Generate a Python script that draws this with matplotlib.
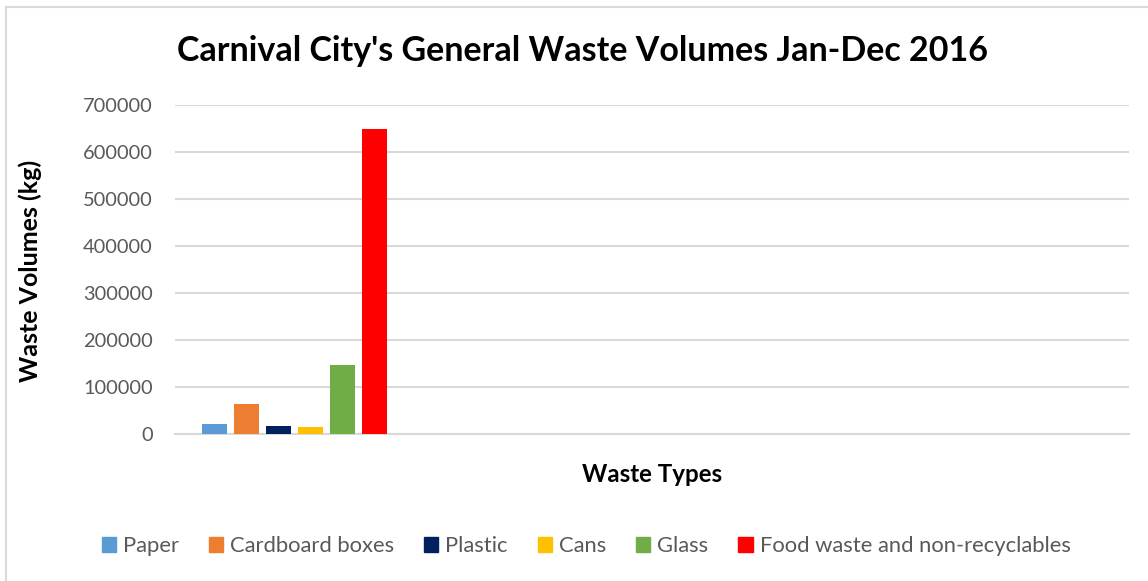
import matplotlib
matplotlib.use("Agg")
import matplotlib.pyplot as plt
from matplotlib.lines import Line2D
from matplotlib.patches import Patch

series = ["Paper", "Cardboard boxes", "Plastic", "Cans", "Glass", "Food waste and non-recyclables"]
values = [20500, 64000, 17000, 15000, 147000, 649000]
colors = ["#5B9BD5", "#ED7D31", "#002060", "#FFC000", "#70AD47", "#FF0000"]
yticks = [0, 100000, 200000, 300000, 400000, 500000, 600000, 700000]

W, H = 1148, 581
fig = plt.figure(figsize=(W / 100, H / 100), dpi=100)
plt.rcParams['font.family'] = ['Lato', 'DejaVu Sans']

ax = fig.add_axes([175 / W, (H - 433.6) / H, 954 / W, 328.6 / H])
n = len(series)
pitch = 0.1342
bw = 0.1048
for i, (s, v, c) in enumerate(zip(series, values, colors)):
    ax.bar(0 + (i - (n - 1) / 2) * pitch, v, width=bw, color=c, zorder=3, label=s)

ax.set_xlim(-0.5, 3.5)
ax.set_ylim(0, 700000)
ax.set_yticks(yticks)
ax.set_yticklabels([str(t) for t in yticks], fontsize=14.4, color="#595959")
ax.set_xticks([])
ax.tick_params(axis='y', length=0, pad=16)
ax.grid(axis='y', color="#D9D9D9", linewidth=1.5, zorder=0)
for sp in ["top", "right", "left"]:
    ax.spines[sp].set_visible(False)
ax.spines["bottom"].set_color("#D9D9D9")
ax.spines["bottom"].set_linewidth(1.5)
ax.spines["bottom"].set_zorder(1)

fig.text(582 / W, 1 - 51 / H, "Carnival City's General Waste Volumes Jan-Dec 2016",
         ha="center", va="center", fontsize=24.5, fontweight="bold", color="black")
fig.text(30 / W, 1 - 271 / H, "Waste Volumes (kg)", rotation=90, ha="center", va="center",
         fontsize=18, fontweight="bold", color="black")
fig.text(652 / W, 1 - 475 / H, "Waste Types", ha="center", va="center",
         fontsize=17.4, fontweight="bold", color="black")

handles = [Patch(facecolor=c, edgecolor=c) for c in colors]
leg = fig.legend(handles, series, loc="center", bbox_to_anchor=(586 / W, 1 - 546 / H),
                 ncol=6, frameon=False, fontsize=15.8, handlelength=0.65, handleheight=0.65,
                 handletextpad=0.32, columnspacing=1.36, labelcolor="#595959")

border = "#D9D9D9"
fig.add_artist(Line2D([5.5 / W, 1], [1 - 6.5 / H, 1 - 6.5 / H], color=border, linewidth=1.5,
                      transform=fig.transFigure))
fig.add_artist(Line2D([5.5 / W, 5.5 / W], [0, 1 - 6.5 / H], color=border, linewidth=1.5,
                      transform=fig.transFigure))

fig.savefig("out.png", dpi=100, facecolor="white")
